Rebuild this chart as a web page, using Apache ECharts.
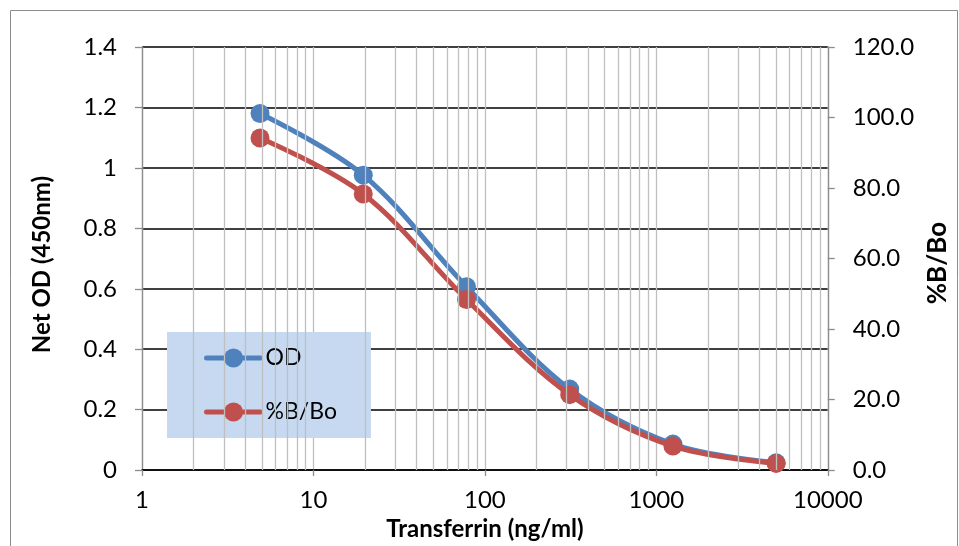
<!DOCTYPE html>
<html>
<head>
<meta charset="utf-8">
<script src="https://cdn.jsdelivr.net/npm/echarts@6/dist/echarts.min.js"></script>
<style>html,body{margin:0;padding:0;background:#fff;}#c{width:959px;height:546px;}</style>
</head>
<body>
<div id="c"></div>
<script>
const concentrations = [4.88, 19.53, 78.13, 312.5, 1250, 5000];
const odValues = [1.180, 0.976, 0.607, 0.268, 0.086, 0.024];
const pctBBo = [94.2, 78.3, 48.4, 21.4, 6.8, 1.9];
const xTickLabels = ['1', '10', '100', '1000', '10000'];
const xTickValues = [1, 10, 100, 1000, 10000];
const minorGridValues = [2,3,4,5,6,7,8,9,20,30,40,50,60,70,80,90,200,300,400,500,600,700,800,900,2000,3000,4000,5000,6000,7000,8000,9000];
const seriesNames = ['OD', '%B/Bo'];

const FONT = 'Lato';
const chart = echarts.init(document.getElementById('c'), null, {renderer: 'canvas'});
const odData = concentrations.map((c, i) => [c, odValues[i]]);
const pctData = concentrations.map((c, i) => [c, pctBBo[i]]);

chart.setOption({
  animation: false,
  backgroundColor: '#fff',
  textStyle: {fontFamily: FONT},
  graphic: [{
    type: 'rect', silent: true, z: -10,
    shape: {x: 10.5, y: 10.5, width: 947, height: 600},
    style: {fill: 'none', stroke: '#8c8c8c', lineWidth: 1}
  }],
  grid: {left: 142, right: 126, top: 47, bottom: 74, containLabel: false},
  legend: {
    data: seriesNames,
    orient: 'vertical',
    left: 167, top: 332,
    backgroundColor: '#C6D9F1',
    padding: [14, 34, 14, 37],
    itemWidth: 54, itemHeight: 24, itemGap: 30,
    lineStyle: {width: 5, cap: 'round'},
    textStyle: {fontFamily: FONT, fontSize: 23, lineHeight: 24, color: '#000'}
  },
  xAxis: {
    type: 'log', logBase: 10, min: 1, max: 10000,
    name: 'Transferrin (ng/ml)', nameLocation: 'middle', nameGap: 46,
    nameTextStyle: {fontFamily: FONT, fontSize: 24, fontWeight: 'bold', color: '#000'},
    axisLine: {show: true, lineStyle: {color: '#000', width: 1.5}},
    axisTick: {show: true, inside: false, length: 6, lineStyle: {color: '#8c8c8c', width: 1.3}},
    axisLabel: {margin: 18, fontFamily: FONT, fontSize: 24, color: '#000',
      formatter: v => { const i = xTickValues.findIndex(t => Math.abs(t - v) / t < 1e-6); return i >= 0 ? xTickLabels[i] : ''; }},
    splitLine: {show: true, lineStyle: {color: '#BFBFBF', width: 1.3}},
    minorTick: {show: false}, minorSplitLine: {show: false}
  },
  yAxis: [{
    type: 'value', min: 0, max: 1.4, interval: 0.2,
    name: 'Net OD (450nm)', nameLocation: 'middle', nameGap: 88, nameRotate: 90,
    nameTextStyle: {fontFamily: FONT, fontSize: 24, fontWeight: 'bold', color: '#000', padding: [0, 12, 0, 0]},
    axisLine: {show: true, lineStyle: {color: '#8c8c8c', width: 1.3}},
    axisTick: {show: true, inside: false, length: 7, lineStyle: {color: '#8c8c8c', width: 1.3}},
    axisLabel: {margin: 25, fontFamily: FONT, fontSize: 24, color: '#000'},
    splitLine: {show: true, lineStyle: {color: '#000', width: 1.6}}
  }, {
    type: 'value', min: 0, max: 120, interval: 20, position: 'right',
    name: '%B/Bo', nameLocation: 'middle', nameGap: 97, nameRotate: 90,
    nameTextStyle: {fontFamily: FONT, fontSize: 26, fontWeight: 'bold', color: '#000', padding: [0, 9, 0, 0]},
    axisLine: {show: true, lineStyle: {color: '#8c8c8c', width: 1.3}},
    axisTick: {show: true, inside: false, length: 7, lineStyle: {color: '#8c8c8c', width: 1.3}},
    axisLabel: {margin: 25, fontFamily: FONT, fontSize: 24, color: '#000', formatter: v => v.toFixed(1)},
    splitLine: {show: false}
  }],
  series: [{
    name: 'minorGrid', type: 'line', data: [], z: -1, silent: true,
    markLine: {
      silent: true, symbol: ['none', 'none'], label: {show: false},
      lineStyle: {color: '#BFBFBF', width: 1.3, type: 'solid'},
      emphasis: {disabled: true},
      data: minorGridValues.map(v => ({xAxis: v}))
    }
  }, {
    name: seriesNames[0], type: 'line', yAxisIndex: 0, data: odData, z: 3,
    smooth: 0.35, symbol: 'circle', symbolSize: 19,
    lineStyle: {color: '#4F81BD', width: 5},
    itemStyle: {color: '#4F81BD'}
  }, {
    name: seriesNames[1], type: 'line', yAxisIndex: 1, data: pctData, z: 4,
    smooth: 0.35, symbol: 'circle', symbolSize: 19,
    lineStyle: {color: '#C0504D', width: 5},
    itemStyle: {color: '#C0504D'}
  }]
});
</script>
</body>
</html>
